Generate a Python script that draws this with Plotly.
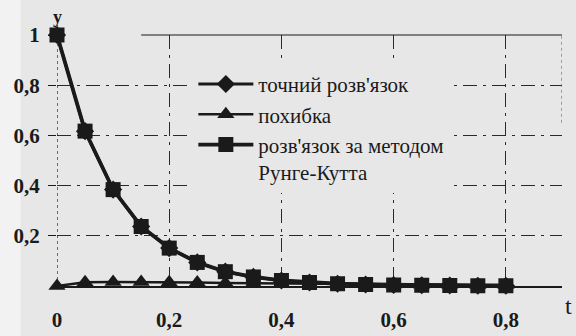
import plotly.graph_objects as go

# step grid and solutions
t = [0.0, 0.05, 0.1, 0.15, 0.2, 0.25, 0.3, 0.35, 0.4, 0.45,
     0.5, 0.55, 0.6, 0.65, 0.7, 0.75, 0.8]
y_exact = [1.0, 0.617, 0.384, 0.237, 0.151, 0.094, 0.057, 0.036, 0.022,
           0.014, 0.009, 0.006, 0.004, 0.003, 0.002, 0.001, 0.001]
y_rk = [1.0, 0.617, 0.384, 0.237, 0.151, 0.094, 0.057, 0.036, 0.022,
        0.014, 0.009, 0.006, 0.004, 0.003, 0.002, 0.001, 0.001]
err = [0.0, 0.015, 0.016, 0.016, 0.015, 0.014, 0.012, 0.011, 0.010,
       0.009, 0.008, 0.007, 0.006, 0.005, 0.005, 0.004, 0.004]

names = ["точний розв'язок", "похибка", "розв'язок за методом<br>Рунге-Кутта"]

x_ticks = [0, 0.2, 0.4, 0.6, 0.8]
x_ticktext = ["0", "0,2", "0,4", "0,6", "0,8"]
y_ticks = [0.2, 0.4, 0.6, 0.8, 1.0]
y_ticktext = ["0,2", "0,4", "0,6", "0,8", "1"]

INK = "#1a1a1a"
PAPER = "#e7e7e7"
SERIF = "Liberation Serif"

fig = go.Figure()
fig.add_trace(go.Scatter(
    x=t, y=y_exact, name=names[0], mode="lines+markers",
    line=dict(color=INK, width=3),
    marker=dict(symbol="diamond", size=14, color=INK),
    cliponaxis=False))
fig.add_trace(go.Scatter(
    x=t, y=err, name=names[1], mode="lines+markers",
    line=dict(color=INK, width=2.6),
    marker=dict(symbol="triangle-up", size=15, color=INK),
    cliponaxis=False))
fig.add_trace(go.Scatter(
    x=t, y=y_rk, name=names[2], mode="lines+markers",
    line=dict(color=INK, width=3.8),
    marker=dict(symbol="square", size=15, color=INK),
    cliponaxis=False))

grid = dict(showgrid=True, gridcolor="#2a2a2a", gridwidth=1,
            griddash="14px,6px,3px,6px", zeroline=False, automargin=False)

fig.update_xaxes(
    range=[0, 0.9], tickvals=x_ticks, ticktext=x_ticktext,
    showline=True, linecolor=INK, linewidth=1.5,
    ticks="", ticklabelstandoff=14,
    tickfont=dict(family=SERIF, size=21, color=INK, weight="bold"),
    **grid)
fig.update_yaxes(
    range=[0, 1], tickvals=y_ticks, ticktext=y_ticktext,
    showline=False, ticks="outside", ticklen=8, tickcolor=INK,
    ticklabelstandoff=4,
    tickfont=dict(family=SERIF, size=21, color=INK, weight="bold"),
    **grid)

shapes = [
    # lighter strip along the left edge of the page
    dict(type="rect", xref="paper", yref="paper",
         x0=-0.115, x1=-0.072, y0=-0.2, y1=1.14,
         fillcolor="#f2f2f2", line=dict(width=0), layer="below"),
    # vertical axis through t = 0
    dict(type="line", xref="x", yref="paper", x0=0, x1=0, y0=0, y1=1.04,
         line=dict(color=INK, width=1.2, dash="dot")),
    # frame: top edge and right edge
    dict(type="line", xref="x", yref="paper", x0=0.15, x1=0.9, y0=1, y1=1,
         line=dict(color=INK, width=1.2)),
    dict(type="line", xref="x", yref="paper", x0=0.9, x1=0.9, y0=0.65, y1=1,
         line=dict(color="#555555", width=1, dash="dot")),
]

annotations = [
    dict(text="<b>y</b>", xref="x", yref="paper", x=0, y=1.072,
         xanchor="center", yanchor="middle", showarrow=False,
         font=dict(family=SERIF, size=18, color=INK)),
    dict(text="t", xref="paper", yref="paper", x=1.013, y=-0.08,
         xanchor="center", yanchor="middle", showarrow=False,
         font=dict(family=SERIF, size=24, color=INK)),
]

fig.update_layout(
    width=576, height=336,
    margin=dict(l=57, r=14, t=35, b=50),
    font=dict(family=SERIF, color=INK),
    paper_bgcolor=PAPER, plot_bgcolor=PAPER,
    shapes=shapes, annotations=annotations,
    showlegend=True,
    legend=dict(x=0.27, y=0.885, xanchor="left", yanchor="top",
                bgcolor=PAPER, borderwidth=0, itemwidth=55,
                valign="top", tracegroupgap=0,
                font=dict(family=SERIF, size=21, color=INK)),
)

fig.write_html("out.html")
